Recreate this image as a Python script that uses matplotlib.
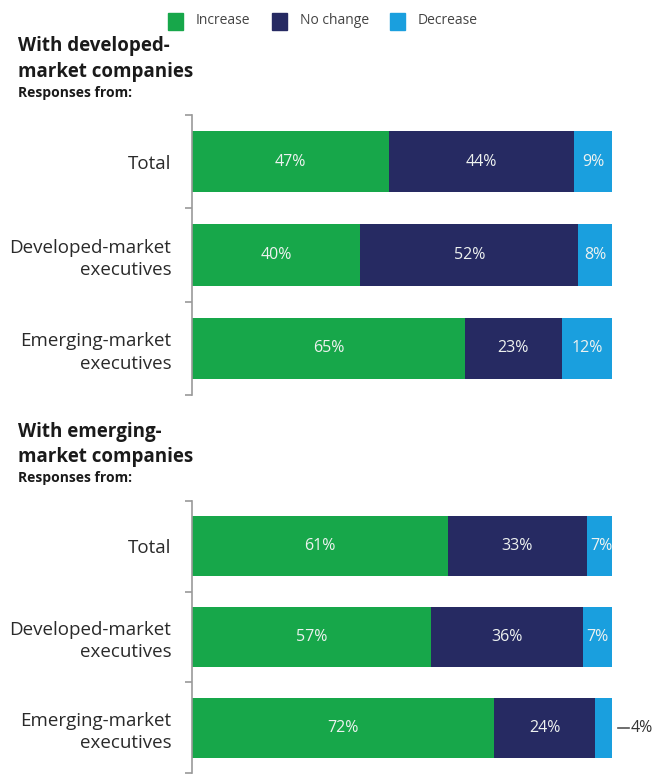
import matplotlib
matplotlib.use("Agg")
import matplotlib.pyplot as plt
from matplotlib.patches import Rectangle

plt.rcParams['font.family'] = ['Open Sans', 'DejaVu Sans']

groups = ["Total", "Developed-market\nexecutives", "Emerging-market\nexecutives"]
series = ["Increase", "No change", "Decrease"]
colors = ["#17a74a", "#262a62", "#1a9fde"]

# with developed-market companies
dev_increase = [47, 40, 65]
dev_nochange = [44, 52, 23]
dev_decrease = [9, 8, 12]

# with emerging-market companies
em_increase = [61, 57, 72]
em_nochange = [33, 36, 24]
em_decrease = [7, 7, 4]

W, H = 655, 774
fig = plt.figure(figsize=(W / 100, H / 100), dpi=100)


def panel(top_px, bottom_px, vals):
    ax = fig.add_axes([192 / W, 1 - bottom_px / H, 420 / W, (bottom_px - top_px) / H])
    left = [0, 0, 0]
    ypos = list(range(len(groups)))
    for k, v in enumerate(vals):
        ax.barh(ypos, v, left=left, height=0.66, color=colors[k], edgecolor='none')
        for i in ypos:
            if v[i] >= 5:
                ax.text(left[i] + v[i] / 2, i, f"{v[i]}%", ha='center', va='center',
                        color='#eef2f0', fontsize=11.5)
            else:
                ax.plot([left[i] + v[i] + 1.5, left[i] + v[i] + 4], [i, i], color='#555555',
                        lw=1.2, clip_on=False)
                ax.text(left[i] + v[i] + 4.5, i, f"{v[i]}%", ha='left', va='center',
                        color='#333333', fontsize=11.5)
        left = [a + b for a, b in zip(left, v)]
    ax.set_xlim(0, 100)
    ax.set_ylim(2.5, -0.5)
    for s in ['top', 'right', 'bottom']:
        ax.spines[s].set_visible(False)
    ax.spines['left'].set_color('#999999')
    ax.spines['left'].set_linewidth(1.2)
    ax.set_xticks([])
    ax.set_yticks(ypos)
    ax.set_yticklabels(groups, fontsize=13.5, color='#2a2a2a', linespacing=1.3)
    ax.tick_params(axis='y', which='major', length=0, pad=15)
    ax.set_yticks([-0.5, 0.5, 1.5, 2.5], minor=True)
    ax.tick_params(axis='y', which='minor', length=5, width=1.2, color='#999999')
    return ax


panel(115, 395, [dev_increase, dev_nochange, dev_decrease])
panel(501, 773, [em_increase, em_nochange, em_decrease])

title_kw = dict(fontsize=13.5, fontweight='bold', color='#1a1a1a', va='center')
sub_kw = dict(fontsize=10, fontweight='bold', color='#1a1a1a', va='center')
fig.text(18 / W, 1 - 46 / H, "With developed-", **title_kw)
fig.text(18 / W, 1 - 72 / H, "market companies", **title_kw)
fig.text(18 / W, 1 - 93 / H, "Responses from:", **sub_kw)
fig.text(18 / W, 1 - 432 / H, "With emerging-", **title_kw)
fig.text(18 / W, 1 - 457 / H, "market companies", **title_kw)
fig.text(18 / W, 1 - 478 / H, "Responses from:", **sub_kw)

# legend drawn by hand
leg_x = [168, 272, 390]
for x, c, s in zip(leg_x, colors, series):
    fig.patches.append(Rectangle((x / W, 1 - 30 / H), 15 / W, 17 / H, color=c,
                                 transform=fig.transFigure))
    fig.text((x + 28) / W, 1 - 21 / H, s, fontsize=10, color='#444444', va='center')

fig.savefig("out.png", dpi=100)
